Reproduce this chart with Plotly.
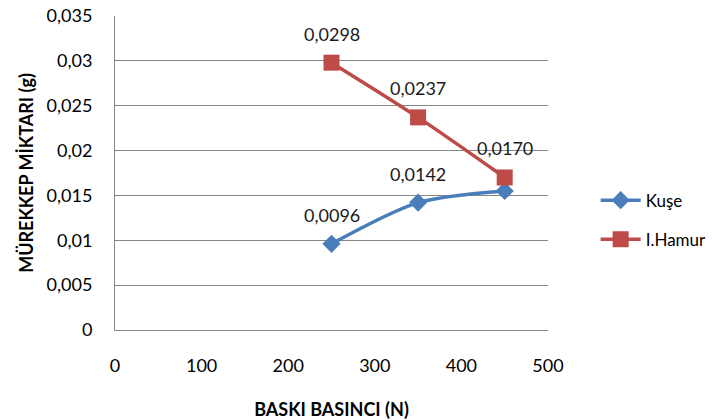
import plotly.graph_objects as go

pressure = [250, 350, 450]
kuse = [0.0096, 0.0142, 0.0155]
hamur = [0.0298, 0.0237, 0.0170]
kuse_labels = ["0,0096", "0,0142", ""]
hamur_labels = ["0,0298", "0,0237", "0,0170"]
y_ticks = [0, 0.005, 0.01, 0.015, 0.02, 0.025, 0.03, 0.035]
y_ticktext = ["0", "0,005", "0,01", "0,015", "0,02", "0,025", "0,03", "0,035"]
x_ticks = [0, 100, 200, 300, 400, 500]

FONT = "Lato, Open Sans, sans-serif"

fig = go.Figure()
fig.add_trace(go.Scatter(
    x=pressure, y=kuse, name="Kuşe", mode="lines+markers", legendgroup="k",
    line=dict(color="#4A7EBB", width=3.5, shape="spline", smoothing=0.8),
    marker=dict(symbol="diamond", size=14, color="#4A7EBB"),
))
fig.add_trace(go.Scatter(
    x=pressure, y=hamur, name="I.Hamur", mode="lines+markers", legendgroup="h",
    line=dict(color="#BE4B48", width=3.5, shape="spline", smoothing=0.8),
    marker=dict(symbol="square", size=16, color="#BE4B48"),
))

for xs, ys, labs in [(pressure, kuse, kuse_labels), (pressure, hamur, hamur_labels)]:
    for x, y, t in zip(xs, ys, labs):
        if t:
            fig.add_annotation(x=x, y=y, text=t, showarrow=False, yshift=29,
                               font=dict(family=FONT, size=18, color="#1a1a1a"))

fig.update_layout(
    width=713, height=420,
    margin=dict(l=115, r=165, t=16, b=90, autoexpand=False),
    paper_bgcolor="white", plot_bgcolor="white",
    font=dict(family=FONT, size=18, color="#000"),
    showlegend=True,
    legend=dict(x=1.11, y=0.35, xanchor="left", yanchor="middle",
                font=dict(family=FONT, size=17, color="#000"),
                traceorder="grouped", tracegroupgap=14, itemwidth=40),
    xaxis=dict(range=[0, 500], tickvals=x_ticks, showgrid=False, zeroline=False,
               showline=True, linecolor="#868686", linewidth=1, ticks="",
               ticklabelstandoff=19, tickfont=dict(size=18), automargin=False,
               title=dict(text="<b>BASKI BASINCI (N)</b>", standoff=30,
                          font=dict(family=FONT, size=18))),
    yaxis=dict(range=[0, 0.035], tickvals=y_ticks, ticktext=y_ticktext,
               showgrid=True, gridcolor="#868686", gridwidth=1, zeroline=False,
               showline=True, linecolor="#868686", linewidth=1, ticks="",
               ticklabelstandoff=18, tickfont=dict(size=18), automargin=False,
               title=dict(text="<b>MÜREKKEP MİKTARI (g)</b>", standoff=8,
                          font=dict(family=FONT, size=18))),
)

fig.write_html("out.html")
